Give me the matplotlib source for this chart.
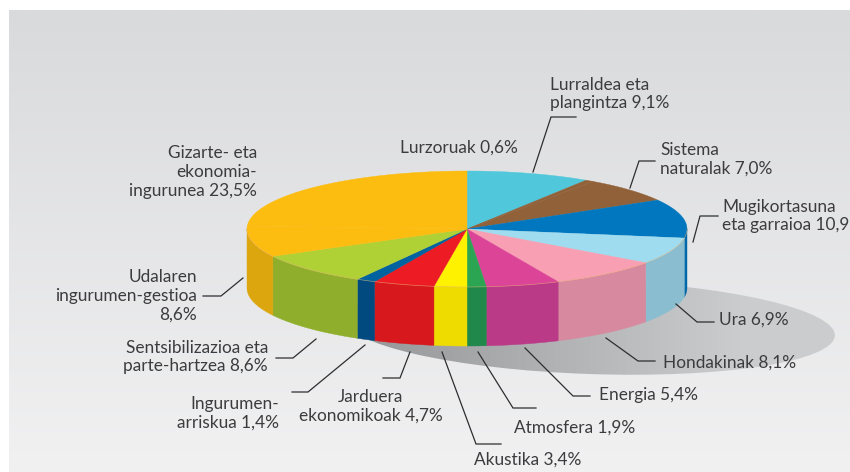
import matplotlib
matplotlib.use("Agg")
import matplotlib.pyplot as plt
import numpy as np
from matplotlib.colors import LinearSegmentedColormap
from matplotlib.patches import Ellipse

plt.rcParams["font.family"] = ["Lato", "DejaVu Sans"]

# clockwise from the top of the pie
names = ["Lurraldea eta\nplangintza", "Lurzoruak", "Sistema\nnaturalak", "Mugikortasuna\neta garraioa", "Ura",
         "Hondakinak", "Energia", "Atmosfera", "Akustika", "Jarduera\nekonomikoak",
         "Ingurumen-\narriskua", "Sentsibilizazioa eta\nparte-hartzea", "Udalaren\ningurumen-gestioa\n",
         "Gizarte- eta\nekonomia-\ningurunea"]
# printed percentages
values = [9.1, 0.6, 7.0, 10.9, 6.9, 8.1, 5.4, 1.9, 3.4, 4.7, 1.4, 8.6, 8.6, 23.5]
# slice sizes as actually drawn (differ slightly from the printed ones)
drawn = [9.1, 0.6, 7.0, 10.8, 7.4, 8.3, 5.4, 1.4, 2.4, 4.5, 1.4, 8.9, 8.6, 24.2]
top_colors = ["#50C7DA", "#91623A", "#91623A", "#0077BF", "#A0DCEF", "#F99FB3", "#DB4497", "#2CA552",
              "#FFF200", "#ED1C24", "#00629E", "#AFD136", "#FDBD10", "#FDBD10"]
side_colors = ["#44A9BA", "#7B5331", "#7B5331", "#0068A8", "#8ABDCF", "#D78A9F", "#BB3A88", "#20884A",
               "#EEDC00", "#D7191E", "#004A80", "#8FAE2B", "#DCA60E", "#DCA60E"]

# layout, in pixels of the 850x472 picture
CX, CY, RX, RY, DEPTH = 467, 229, 220, 58, 59
text_pos = [(550, 94, "left"), (518, 148, "right"), (660, 159, "left"), (722, 216, "left"), (719, 320, "left"),
            (663, 363, "left"), (599, 395, "left"), (514, 428, "left"), (474, 460, "left"), (371, 406, "center"),
            (279, 413, "right"), (268, 357, "right"), (197, 296, "right"), (257, 172, "right")]
leaders = [[(533, 172), (551, 117), (576, 117)], None, [(630, 188), (639, 161), (655, 161)],
           [(693, 242), (700, 216), (718, 216)], [(676, 304), (697, 322), (714, 322)],
           [(606, 338), (638, 361), (655, 361)], [(525, 348), (573, 396), (590, 396)],
           [(478, 352), (513, 408), (536, 408)], [(442, 352), (476, 444), (501, 444)],
           [(410, 352), (400, 378), (383, 378)], [(365, 345), (308, 392), (292, 392)],
           [(316, 339), (293, 358), (276, 358)], [(243, 278), (221, 296), (203, 296)], None]


def rim(a, b):
    t = np.radians(np.linspace(a, b, max(int(abs(b - a) * 2), 2)))
    return CX + RX * np.sin(t), CY - RY * np.cos(t)


fig = plt.figure(figsize=(8.5, 4.72), dpi=100)
ax = fig.add_axes([0, 0, 1, 1])

# background gradient
bg = LinearSegmentedColormap.from_list("bg", ["#D9DADC", "#F1F1F2"])
ax.imshow(np.linspace(0, 1, 256).reshape(-1, 1), cmap=bg, extent=(9, 850, 472, 10), aspect="auto", zorder=0)

# shadow under the pie
sh = LinearSegmentedColormap.from_list("sh", ["#939496", "#CBCCCE"])
im = ax.imshow(np.linspace(0, 1, 256).reshape(1, -1), cmap=sh, extent=(340, 740, 390, 270), aspect="auto",
               vmin=0, vmax=1, zorder=1)
im2 = ax.imshow(np.ones((2, 2)), cmap=sh, extent=(740, 850, 390, 270), aspect="auto", vmin=0, vmax=1, zorder=1)
sh_ellipse = Ellipse((590, 327), 490, 94, angle=2, transform=ax.transData, fc="none", ec="none")
ax.add_patch(sh_ellipse)
im.set_clip_path(sh_ellipse)
im2.set_clip_path(sh_ellipse)

ax.set_xlim(0, 850)
ax.set_ylim(472, 0)
ax.axis("off")

edges = np.cumsum([0] + drawn) / sum(drawn) * 360
for i, v in enumerate(drawn):
    a, b = edges[i], edges[i + 1]
    # front wall only between 90 and 270 degrees
    lo, hi = max(a, 90), min(b, 270)
    if lo < hi:
        x, y = rim(lo, hi)
        ax.fill(np.r_[x, x[::-1]], np.r_[y, y[::-1] + DEPTH], color=side_colors[i], lw=0.3, zorder=2)
    x, y = rim(a, b)
    ax.fill(np.r_[CX, x], np.r_[CY, y], color=top_colors[i], lw=0.3, zorder=3)

x, y = rim(90, 270)
ax.plot(x, y, color="#E8B070", lw=0.5, alpha=0.6, zorder=4)

for i, name in enumerate(names):
    val = f"{values[i]:.1f}".replace(".", ",") + "%"
    sep = "" if name.endswith("\n") else " "
    px, py, ha = text_pos[i]
    ax.text(px, py, name + sep + val, ha=ha, va="center", fontsize=12.4, color="#3C3C3E",
            linespacing=1.2, zorder=6, clip_on=True)
    if leaders[i]:
        lx, ly = zip(*leaders[i])
        ax.plot(lx, ly, color="#2E2E30", lw=0.9, solid_joinstyle="miter", zorder=5)

fig.savefig("out.png", dpi=100)
